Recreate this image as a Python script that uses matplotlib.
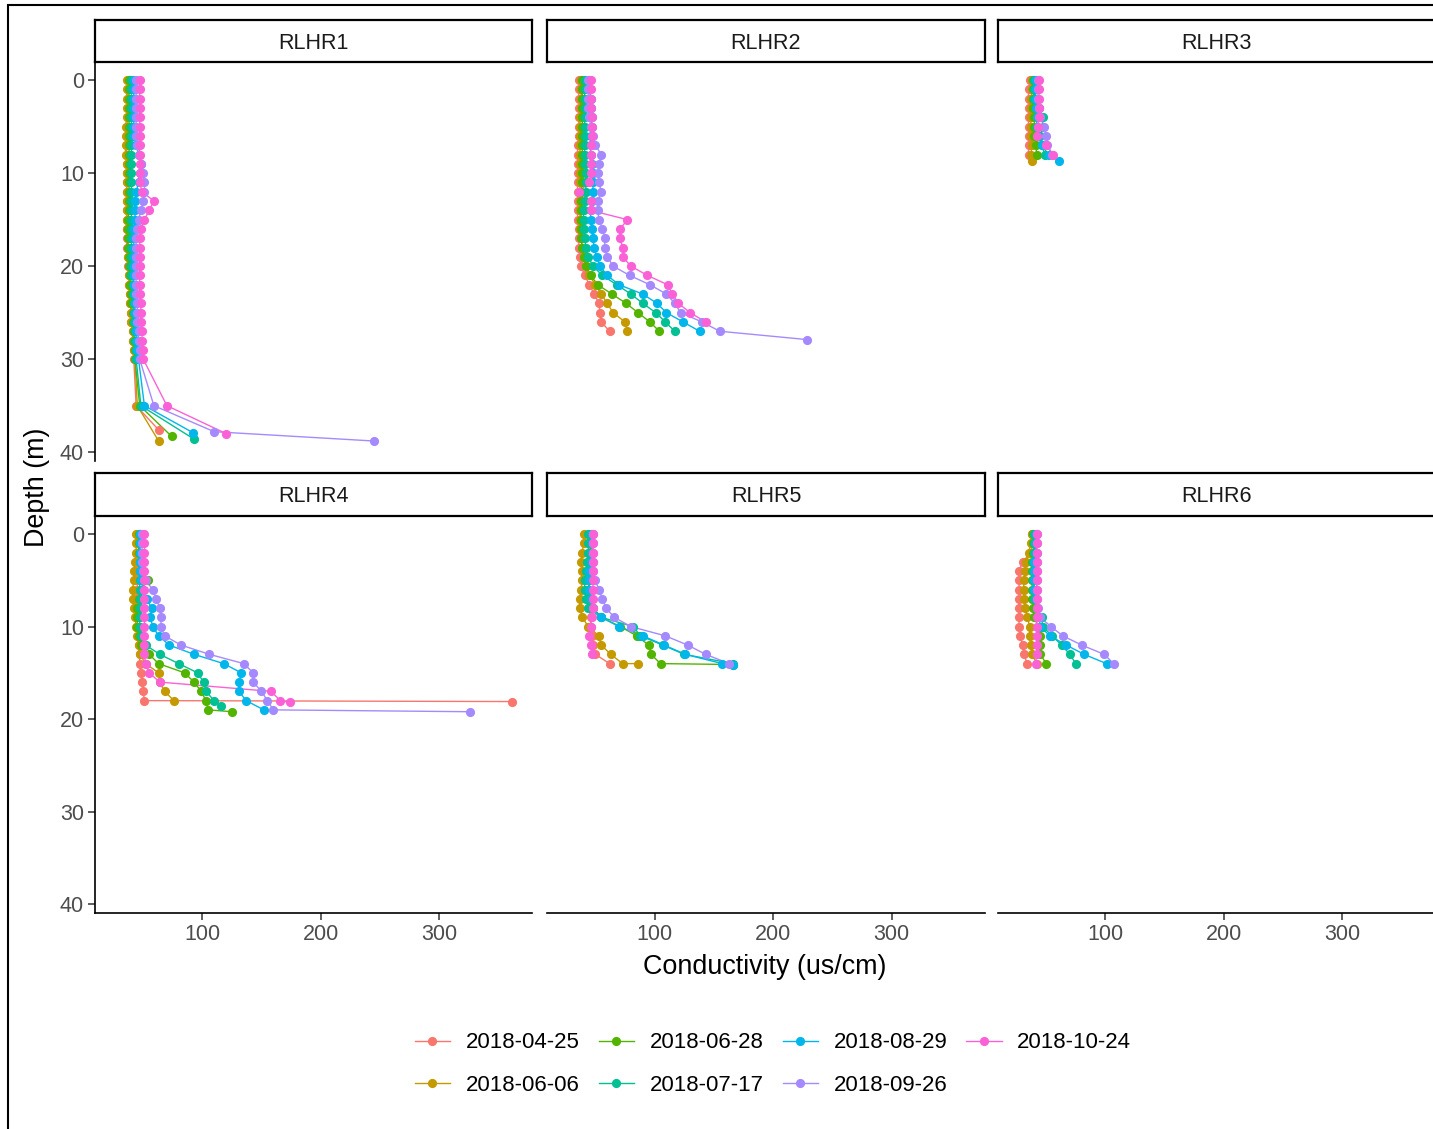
import matplotlib.pyplot as plt
from matplotlib.lines import Line2D
from matplotlib.patches import Rectangle

plt.rcParams['font.family'] = ['Liberation Sans', 'DejaVu Sans']

dates = ['2018-04-25', '2018-06-06', '2018-06-28', '2018-07-17',
         '2018-08-29', '2018-09-26', '2018-10-24']
colors = ['#F8766D', '#C49A00', '#53B400', '#00C094', '#00B6EB', '#A58AFF', '#FB61D7']
sites = ['RLHR1', 'RLHR2', 'RLHR3', 'RLHR4', 'RLHR5', 'RLHR6']

# ---- RLHR1: readings every metre 0-30 m, then deep readings
rlhr1_top = [0, 1, 2, 3, 4, 5, 6, 7, 8, 9, 10, 11, 12, 13, 14, 15, 16, 17, 18, 19,
             20, 21, 22, 23, 24, 25, 26, 27, 28, 29, 30]
rlhr1_tail = [[35, 37.6], [35, 38.8], [35, 38.3], [35, 38.6], [35, 37.9],
              [35, 37.8, 38.8], [35, 38.0]]
rlhr1_cond = [
    [38, 37, 37, 37, 37, 36, 36, 36, 36, 36, 36, 36, 36, 36, 36, 36, 36, 36, 36, 37,
     37, 38, 38, 39, 39, 40, 40, 41, 41, 42, 42, 44, 63],
    [36, 36, 36, 36, 36, 35, 35, 35, 35, 36, 36, 36, 36, 36, 36, 36, 36, 37, 37, 37,
     38, 38, 38, 39, 39, 40, 40, 41, 41, 42, 43, 45, 63],
    [38, 38, 38, 38, 38, 38, 38, 38, 38, 38, 38, 38, 38, 38, 38, 37, 37, 37, 37, 38,
     38, 39, 39, 40, 40, 41, 41, 42, 42, 43, 43, 47, 74],
    [40, 40, 40, 40, 40, 40, 40, 40, 40, 40, 40, 40, 40, 40, 40, 40, 40, 40, 40, 40,
     40, 40, 41, 41, 42, 42, 42, 43, 43, 44, 44, 48, 93],
    [42, 42, 42, 42, 42, 42, 42, 44, 46, 48, 47, 46, 44, 43, 43, 43, 42, 42, 42, 42,
     42, 42, 42, 43, 43, 43, 44, 44, 45, 45, 46, 51, 92],
    [44, 44, 44, 44, 44, 44, 44, 45, 46, 48, 50, 51, 51, 50, 48, 46, 45, 44, 44, 44,
     44, 44, 44, 44, 45, 45, 45, 46, 46, 47, 47, 59, 110, 245],
    [47, 47, 47, 47, 47, 47, 47, 47, 47, 47, 47, 47, 49, 59, 55, 51, 48, 47, 47, 47,
     47, 47, 47, 47, 48, 48, 48, 49, 49, 50, 50, 70, 120],
]

# ---- RLHR2
rlhr2_top = [0, 1, 2, 3, 4, 5, 6, 7, 8, 9, 10, 11, 12, 13, 14, 15, 16, 17, 18, 19,
             20, 21, 22, 23, 24, 25, 26]
rlhr2_tail = [[27], [27], [27], [27], [27], [27, 27.9], []]
rlhr2_cond = [
    [36, 36, 36, 36, 36, 36, 36, 35, 35, 35, 35, 35, 35, 35, 35, 35, 36, 36, 36, 37,
     38, 41, 45, 49, 53, 54, 55, 62],
    [38, 38, 38, 38, 37, 37, 37, 37, 37, 37, 37, 37, 37, 37, 37, 37, 37, 38, 39, 40,
     42, 45, 50, 55, 60, 65, 75, 77],
    [39, 39, 39, 39, 39, 39, 39, 39, 39, 39, 39, 39, 38, 38, 38, 38, 38, 38, 39, 40,
     42, 46, 52, 64, 76, 86, 96, 104],
    [41, 41, 41, 41, 41, 41, 41, 41, 41, 41, 42, 42, 42, 41, 40, 40, 40, 41, 42, 44,
     48, 56, 68, 80, 90, 101, 109, 117],
    [45, 45, 46, 46, 47, 47, 46, 46, 46, 47, 48, 48, 48, 47, 46, 46, 47, 48, 49, 51,
     54, 60, 70, 90, 102, 110, 124, 138],
    [44, 44, 44, 44, 45, 46, 48, 50, 55, 53, 52, 53, 55, 52, 52, 53, 56, 58, 58, 60,
     65, 79, 96, 110, 117, 122, 140, 155, 229],
    [46, 46, 46, 46, 47, 47, 47, 46, 46, 46, 46, 45, 36, 46, 46, 77, 71, 71, 73, 73,
     80, 94, 111, 115, 120, 130, 143],
]

# ---- RLHR3
rlhr3_top = [0, 1, 2, 3, 4, 5, 6, 7, 8]
rlhr3_tail = [[], [8.7], [], [], [8.7], [], []]
rlhr3_cond = [
    [36, 35, 35, 35, 35, 35, 35, 35, 35],
    [38, 38, 37, 37, 37, 37, 37, 38, 37, 38],
    [39, 39, 39, 39, 40, 40, 40, 41, 42],
    [40, 40, 40, 44, 47, 47, 45, 46, 49],
    [41, 41, 41, 41, 42, 42, 43, 46, 52, 61],
    [43, 43, 43, 44, 45, 48, 50, 51, 55],
    [44, 44, 44, 44, 44, 43, 42, 50, 56],
]

# ---- RLHR4
rlhr4_top = [0, 1, 2, 3, 4, 5, 6, 7, 8, 9, 10, 11, 12, 13, 14, 15, 16, 17, 18]
rlhr4_tail = [[18.1], [], [19, 19.2], [18.6], [19], [19, 19.2], [18.2]]
rlhr4_cond = [
    [46, 46, 46, 46, 45, 45, 45, 44, 44, 45, 45, 46, 46, 47, 47, 48, 49, 50, 51, 362],
    [44, 44, 44, 43, 42, 42, 41, 41, 42, 43, 44, 45, 46, 47, 52, 63, 64, 68, 76],
    [46, 46, 46, 47, 50, 54, 48, 46, 45, 45, 45, 46, 48, 55, 63, 85, 93, 99, 103,
     105, 125],
    [47, 47, 47, 47, 47, 47, 47, 47, 47, 47, 47, 48, 52, 64, 80, 96, 101, 103, 110, 116],
    [47, 47, 47, 47, 47, 48, 50, 53, 57, 56, 58, 63, 72, 93, 118, 133, 131, 131, 137,
     152],
    [49, 49, 49, 49, 50, 52, 58, 61, 64, 65, 65, 68, 82, 106, 135, 143, 143, 150, 155,
     160, 326],
    [51, 51, 51, 51, 51, 51, 51, 51, 51, 51, 51, 51, 51, 51, 52, 55, 64, 158, 166, 174],
]

# ---- RLHR5
rlhr5_top = [0, 1, 2, 3, 4, 5, 6, 7, 8, 9, 10, 11, 12, 13, 14]
rlhr5_tail = [[], [14.0], [14.1], [], [14.1], [], []]
rlhr5_cond = [
    [45, 45, 45, 45, 45, 45, 45, 45, 45, 46, 46, 47, 48, 50, 62],
    [40, 40, 39, 38, 39, 39, 38, 37, 37, 39, 44, 53, 55, 63, 73, 86],
    [46, 46, 46, 45, 45, 45, 44, 44, 48, 55, 71, 85, 95, 97, 105, 166],
    [44, 44, 44, 43, 42, 41, 41, 42, 44, 55, 82, 88, 107, 125, 166],
    [47, 47, 47, 46, 45, 45, 45, 46, 48, 55, 70, 90, 108, 126, 157, 166],
    [48, 48, 48, 48, 48, 50, 53, 56, 59, 66, 80, 109, 128, 143, 163],
    [48, 48, 48, 48, 48, 48, 48, 48, 48, 47, 46, 45, 46, 47],
]

# ---- RLHR6
rlhr6_top = [0, 1, 2, 3, 4, 5, 6, 7, 8, 9, 10, 11, 12, 13, 14]
rlhr6_tail = [[], [], [], [], [], [], []]
rlhr6_cond = [
    [38, 38, 37, 30, 27, 27, 27, 27, 27, 27, 27, 28, 30, 31, 34],
    [38, 37, 35, 33, 32, 31, 31, 31, 32, 34, 36, 36, 37, 38, 42],
    [39, 39, 39, 38, 38, 38, 38, 38, 39, 40, 43, 45, 45, 45, 50],
    [40, 40, 40, 39, 39, 39, 39, 40, 42, 46, 47, 55, 63, 70, 75],
    [41, 41, 41, 40, 40, 40, 40, 41, 42, 44, 45, 53, 67, 82, 101],
    [42, 42, 42, 42, 42, 42, 42, 42, 43, 45, 54, 64, 80, 99, 107],
    [42, 42, 42, 42, 42, 42, 42, 42, 42, 42, 42, 42, 42, 42, 41],
]

site_data = [(rlhr1_top, rlhr1_tail, rlhr1_cond), (rlhr2_top, rlhr2_tail, rlhr2_cond),
             (rlhr3_top, rlhr3_tail, rlhr3_cond), (rlhr4_top, rlhr4_tail, rlhr4_cond),
             (rlhr5_top, rlhr5_tail, rlhr5_cond), (rlhr6_top, rlhr6_tail, rlhr6_cond)]

# ---- layout in pixels
W, H = 1433, 1129
fig = plt.figure(figsize=(W / 100, H / 100), dpi=100)


def px_axes(x0, y0, x1, y1):
    return fig.add_axes([x0 / W, 1 - y1 / H, (x1 - x0) / W, (y1 - y0) / H])


cols = [(95, 532), (547, 985), (998, 1435)]
rows = [(62, 461), (516, 913)]
strips = [(20, 62), (473, 516)]

ms = 6.6
tick_col = '#4D4D4D'
for k, site in enumerate(sites):
    r, c = divmod(k, 3)
    x0, x1 = cols[c]
    ax = px_axes(x0, rows[r][0], x1, rows[r][1])
    top, tail, cond = site_data[k]
    for i in range(len(dates)):
        depth = top[:len(cond[i]) - len(tail[i])] + tail[i]
        ax.plot(cond[i], depth, color=colors[i], lw=1.0, zorder=2)
    for i in range(len(dates)):
        depth = top[:len(cond[i]) - len(tail[i])] + tail[i]
        ax.plot(cond[i], depth, ls='none', marker='o', ms=ms, mew=0,
                color=colors[i], zorder=3)
    ax.set_xlim(9.2, 378.8)
    ax.set_ylim(40.95, -1.95)
    ax.set_xticks([100, 200, 300])
    ax.set_yticks([0, 10, 20, 30, 40])
    for s in ['top', 'right']:
        ax.spines[s].set_visible(False)
    ax.spines['left'].set_visible(c == 0)
    ax.spines['bottom'].set_visible(r == 1)
    for s in ['left', 'bottom']:
        ax.spines[s].set_linewidth(1.2)
        ax.spines[s].set_color('black')
    ax.tick_params(axis='x', bottom=(r == 1), labelbottom=(r == 1), length=5,
                   width=1.1, color='#333333', labelsize=15.5, labelcolor=tick_col, pad=3)
    ax.tick_params(axis='y', left=(c == 0), labelleft=(c == 0), length=5,
                   width=1.1, color='#333333', labelsize=15.5, labelcolor=tick_col, pad=3)
    ax.patch.set_alpha(0)

    sax = px_axes(x0, strips[r][0], x1, strips[r][1])
    sax.set_xticks([])
    sax.set_yticks([])
    for s in sax.spines.values():
        s.set_linewidth(1.6)
        s.set_color('black')
    sax.text(0.5, 0.45, site, ha='center', va='center', fontsize=15.5,
             color='#1A1A1A', transform=sax.transAxes)

fig.text(765 / W, 1 - 967 / H, 'Conductivity (us/cm)', ha='center', va='center',
         fontsize=19.4, color='black')
fig.text(37 / W, 1 - 487 / H, 'Depth (m)', ha='center', va='center', rotation=90,
         fontsize=19.4, color='black')

handles = [Line2D([], [], color=colors[i], lw=1.0, marker='o', ms=ms, mew=0)
           for i in range(len(dates))]
fig.legend(handles, dates, ncol=4, loc='center', bbox_to_anchor=(773 / W, 1 - 1064 / H),
           frameon=False, fontsize=16, handlelength=1.6, handletextpad=0.7,
           columnspacing=0.85, labelspacing=0.95)

# outer frame of the original screenshot
fig.add_artist(Rectangle((8 / W, -0.1), 1.2, 1 - 5 / H + 0.1, transform=fig.transFigure,
                         fill=False, lw=1.5, ec='black'))

fig.savefig('out.png', dpi=100)
